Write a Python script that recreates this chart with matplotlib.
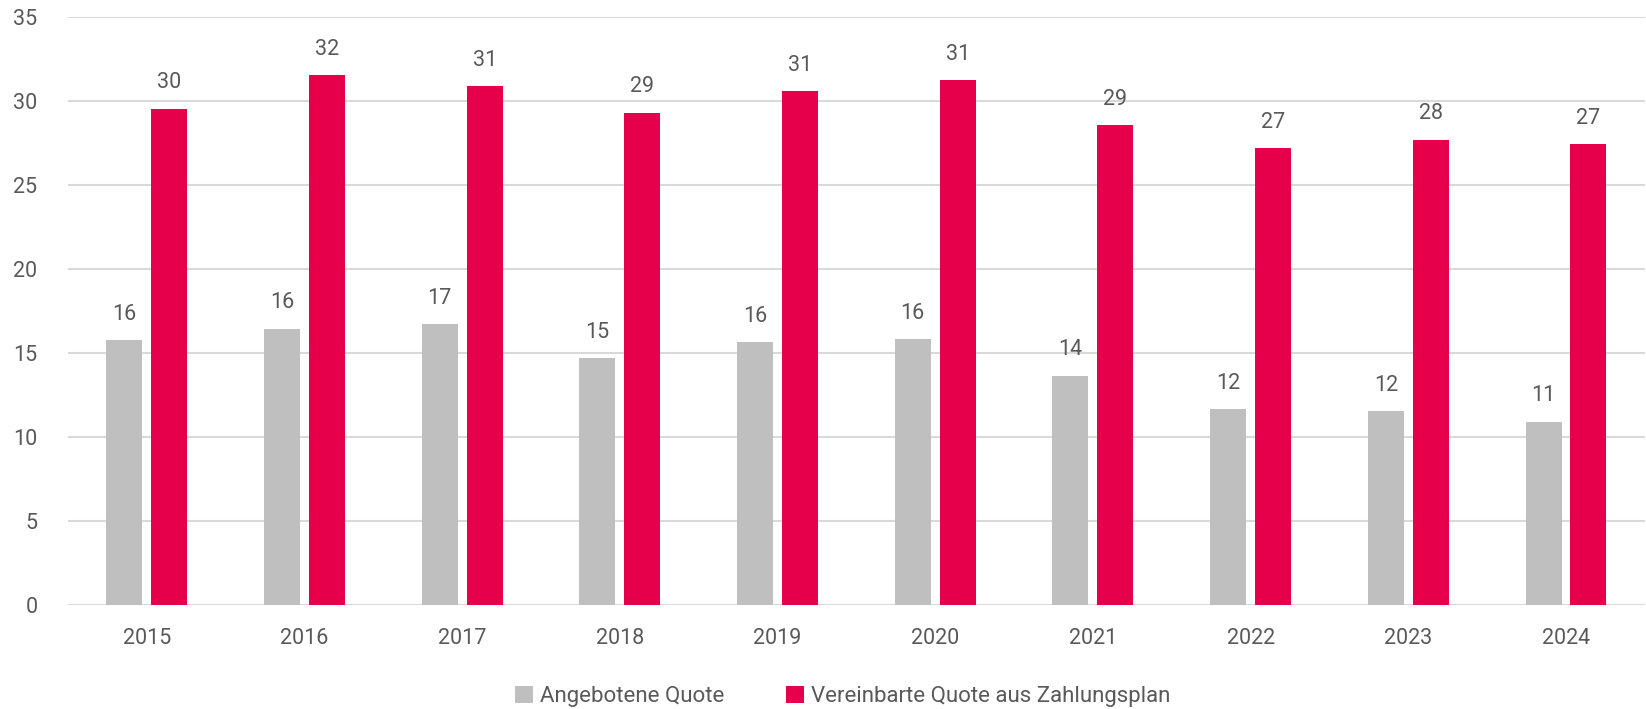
import matplotlib
matplotlib.use('Agg')
import matplotlib.pyplot as plt
import numpy as np

plt.rcParams['font.family'] = ['Roboto', 'DejaVu Sans']

jahre = ['2015', '2016', '2017', '2018', '2019', '2020', '2021', '2022', '2023', '2024']
angebotene = [15.75, 16.45, 16.7, 14.7, 15.65, 15.8, 13.65, 11.65, 11.55, 10.9]
vereinbarte = [29.55, 31.55, 30.9, 29.3, 30.6, 31.25, 28.55, 27.2, 27.7, 27.45]

grau = '#bfbfbf'
rot = '#e6004c'
text_farbe = '#595959'

fig = plt.figure(figsize=(16.46, 7.09), dpi=100)
ax = fig.add_axes([0.0413, 0.147, 0.958, 0.829])

x = np.arange(len(jahre))
breite = 0.228
abstand = 0.057
b1 = ax.bar(x - (breite + abstand) / 2, angebotene, breite, color=grau, label='Angebotene Quote', zorder=3)
b2 = ax.bar(x + (breite + abstand) / 2, vereinbarte, breite, color=rot, label='Vereinbarte Quote aus Zahlungsplan', zorder=3)

for bars, werte in [(b1, angebotene), (b2, vereinbarte)]:
    for bar, w in zip(bars, werte):
        ax.annotate(f'{w:.0f}', (bar.get_x() + bar.get_width() / 2, w),
                    xytext=(0, 11), textcoords='offset points', ha='center', va='bottom',
                    fontsize=15.5, color=text_farbe)

ax.set_xlim(-0.5, len(jahre) - 0.5)
ax.set_ylim(0, 35)
ax.set_yticks(range(0, 36, 5))
ax.set_xticks(x)
ax.set_xticklabels(jahre)
ax.tick_params(axis='both', length=0, labelsize=15.5, labelcolor=text_farbe)
ax.tick_params(axis='x', pad=17)
ax.tick_params(axis='y', pad=22)
ax.grid(axis='y', color='#d9d9d9', linewidth=1.5, zorder=0)
for s in ax.spines.values():
    s.set_visible(False)

fig.legend(loc='lower center', bbox_to_anchor=(0.512, -0.025), ncol=2, frameon=False,
           fontsize=16, labelcolor=text_farbe, handlelength=0.8, handleheight=0.8,
           handletextpad=0.3, columnspacing=2.8)

fig.savefig('out.png', dpi=100)
